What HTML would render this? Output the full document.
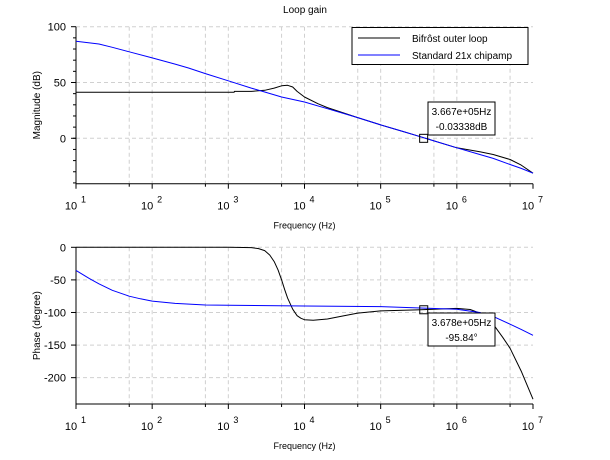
<!DOCTYPE html>
<html><head><meta charset="utf-8">
<style>
body{margin:0;background:#fff;}
svg{display:block;font-family:"Liberation Sans",sans-serif;}
</style></head>
<body>
<svg id="chart" width="610" height="460">
<rect x="0" y="0" width="610" height="460" fill="#fff"/>
<text x="305" y="13" text-anchor="middle" font-size="10">Loop gain</text>
<g id="topPanel"></g>
<g id="botPanel"></g>
</svg>
<script>
// ---- data ----
const magBifrostFreq = [10, 100, 1000, 1190, 1200, 2000, 3000, 4000, 5000, 6000, 7000, 8000, 10000, 15000, 20000, 50000, 100000, 300000, 1000000, 2000000, 3000000, 5000000, 7000000, 10000000];
const magBifrost = [41.2, 41.2, 41.2, 41.2, 42, 42, 43, 45, 47, 47.5, 46, 42, 37, 31, 27.5, 18.5, 12, 2.3, -8.5, -12, -14.5, -19, -24, -31.3];
const magStdFreq = [10, 20, 30, 50, 100, 200, 300, 500, 1000, 2000, 3000, 5000, 10000, 20000, 50000, 100000, 200000, 300000, 500000, 1000000, 2000000, 3000000, 5000000, 7000000, 10000000];
const magStd = [86.9, 84.5, 81.5, 77.5, 72, 66.5, 63, 58, 51.5, 45, 41.5, 37, 32.5, 26.5, 18.5, 12, 6, 2.3, -2.3, -8.5, -14.5, -18, -23.5, -27, -31.3];
const phBifrostFreq = [10, 100, 1000, 2000, 2500, 3000, 3500, 4000, 4500, 5000, 5500, 6000, 7000, 8000, 9000, 10000, 13000, 20000, 30000, 50000, 100000, 300000, 1000000, 1500000, 2000000, 3000000, 4000000, 5000000, 7000000, 10000000];
const phBifrost = [0, 0, 0, -0.5, -2, -5, -12, -22, -35, -50, -65, -78, -95, -105, -109, -111, -112, -110, -106, -101, -97.5, -96, -93.8, -95.5, -101, -118, -138, -155, -190, -233];
const phStdFreq = [10, 15, 20, 30, 50, 70, 100, 200, 500, 1000, 10000, 100000, 300000, 1000000, 2000000, 3000000, 5000000, 7000000, 10000000];
const phStd = [-35.4, -48, -56, -66, -75, -79, -82.5, -86, -88.5, -89, -90, -91, -93, -95, -100, -106, -118, -126, -135];
const yTicksMag = [100, 50, 0];
const yTicksPh = [0, -50, -100, -150, -200];
const xDecades = [1, 2, 3, 4, 5, 6, 7];
const markerMag = [366700, -0.03338];
const markerPh = [367800, -95.84];

const NS = "http://www.w3.org/2000/svg";
function mk(parent, tag, attrs){const e=document.createElementNS(NS,tag);for(const k in attrs)e.setAttribute(k,attrs[k]);parent.appendChild(e);return e;}

function panel(g, cfg){
  const L=76,R=533,T=cfg.top,B=cfg.bottom;
  const xs=f=>L+(Math.log10(f)-1)/6*(R-L);
  const ys=v=>T+(cfg.ymax-v)/(cfg.ymax-cfg.ymin)*(B-T);
  xDecades.forEach(d=>{
    if(d>1&&d<7){const l=mk(g,'line',{x1:xs(Math.pow(10,d)),x2:xs(Math.pow(10,d)),y1:T,y2:B,stroke:'#d0d0d0','stroke-dasharray':'4,3'});
    
    }
    if(d<7){const m=Math.pow(10,d)*5;const l2=mk(g,'line',{x1:xs(m),x2:xs(m),y1:T,y2:B,stroke:'#d0d0d0','stroke-dasharray':'4,3'});
    
    }
  });
  cfg.yticks.forEach(v=>{
    const l=mk(g,'line',{x1:L,x2:R,y1:ys(v),y2:ys(v),stroke:'#d0d0d0','stroke-dasharray':'4,3'});
    
    
  });
  const ax=mk(g,'path',{d:`M${L},${T}V${B}H${R}`,stroke:'#000',fill:'none'});
  
  
  cfg.yticks.forEach(v=>{
    mk(g,'line',{x1:L-5,x2:L,y1:ys(v),y2:ys(v),stroke:'#000'});
    const t=mk(g,'text',{x:L-10,y:ys(v)+4,'text-anchor':'end','font-size':'11'});t.textContent=v;
    
    
  });
  for(let v=cfg.minorStart;v>cfg.ymin;v-=cfg.minorStep){mk(g,'line',{x1:L-3,x2:L,y1:ys(v),y2:ys(v),stroke:'#000'});}
  xDecades.forEach(d=>{
    const x=xs(Math.pow(10,d));
    mk(g,'line',{x1:x,x2:x,y1:B,y2:B+5,stroke:'#000'});
    const t=mk(g,'text',{x:x-5,y:B+26,'text-anchor':'middle','font-size':'11'});t.textContent='10';
    
    
    const s=mk(g,'text',{x:x+5,y:B+19,'font-size':'9'});s.textContent=d;
    if(d<7){mk(g,'line',{x1:xs(Math.pow(10,d)*5),x2:xs(Math.pow(10,d)*5),y1:B,y2:B+3,stroke:'#000'});}
  });
  const xt=mk(g,'text',{x:(L+R)/2,y:B+45,'text-anchor':'middle','font-size':'9'});xt.textContent='Frequency (Hz)';
  
  
  const yt=mk(g,'text',{x:0,y:0,'text-anchor':'middle','font-size':'10',transform:`translate(40,${(T+B)/2}) rotate(-90)`});yt.textContent=cfg.ylabel;
  
  
  cfg.series.forEach(s=>{
    const pts=s.freq.map((f,i)=>xs(f).toFixed(1)+','+ys(s.vals[i]).toFixed(1)).join(' ');
    const p=mk(g,'polyline',{points:pts,fill:'none',stroke:s.color,'stroke-width':'1','stroke-linejoin':'round'});
    
    
  });
  const mx=xs(cfg.marker[0]),my=ys(cfg.marker[1]);
  const r=mk(g,'rect',{x:mx-4,y:my-4,width:8,height:8,fill:'none',stroke:'#000'});
  
  
  const b=mk(g,'rect',{x:428,y:cfg.tipY,width:67,height:33,fill:'#fff',stroke:'#000'});
  
  
  cfg.tip.forEach((txt,i)=>{const t=mk(g,'text',{x:461.5,y:cfg.tipY+13+i*15,'text-anchor':'middle','font-size':'10'});t.textContent=txt;
    
    });
}
panel(document.getElementById('topPanel'),{top:26.7,bottom:183.7,ymax:100,ymin:-40.7,yticks:yTicksMag,minorStart:90,minorStep:10,
  ylabel:'Magnitude (dB)',
  series:[{name:'bifrost-magnitude-line',freq:magBifrostFreq,vals:magBifrost,color:'#000'},{name:'standard-magnitude-line',freq:magStdFreq,vals:magStd,color:'#0000ff'}],
  marker:markerMag,tipY:102,tip:['3.667e+05Hz','-0.03338dB']});
panel(document.getElementById('botPanel'),{top:247.3,bottom:404,ymax:0,ymin:-240.4,yticks:yTicksPh,minorStart:-1000,minorStep:50,
  ylabel:'Phase (degree)',
  series:[{name:'bifrost-phase-line',freq:phBifrostFreq,vals:phBifrost,color:'#000'},{name:'standard-phase-line',freq:phStdFreq,vals:phStd,color:'#0000ff'}],
  marker:markerPh,tipY:313,tip:['3.678e+05Hz','-95.84°']});
const topG=document.getElementById('topPanel');
const lg=mk(topG,'g',{});


mk(lg,'rect',{x:352,y:27.5,width:176,height:37,fill:'#fff',stroke:'#000'});
[['Bifrôst outer loop','#000',38],['Standard 21x chipamp','#0000ff',55]].forEach(([t,c,y])=>{
  const e=mk(lg,'g',{});
  
  
  mk(e,'line',{x1:358,x2:400,y1:y,y2:y,stroke:c});
  const tx=mk(e,'text',{x:412,y:y+4,'font-size':'10'});tx.textContent=t;
});
</script>
</body></html>
